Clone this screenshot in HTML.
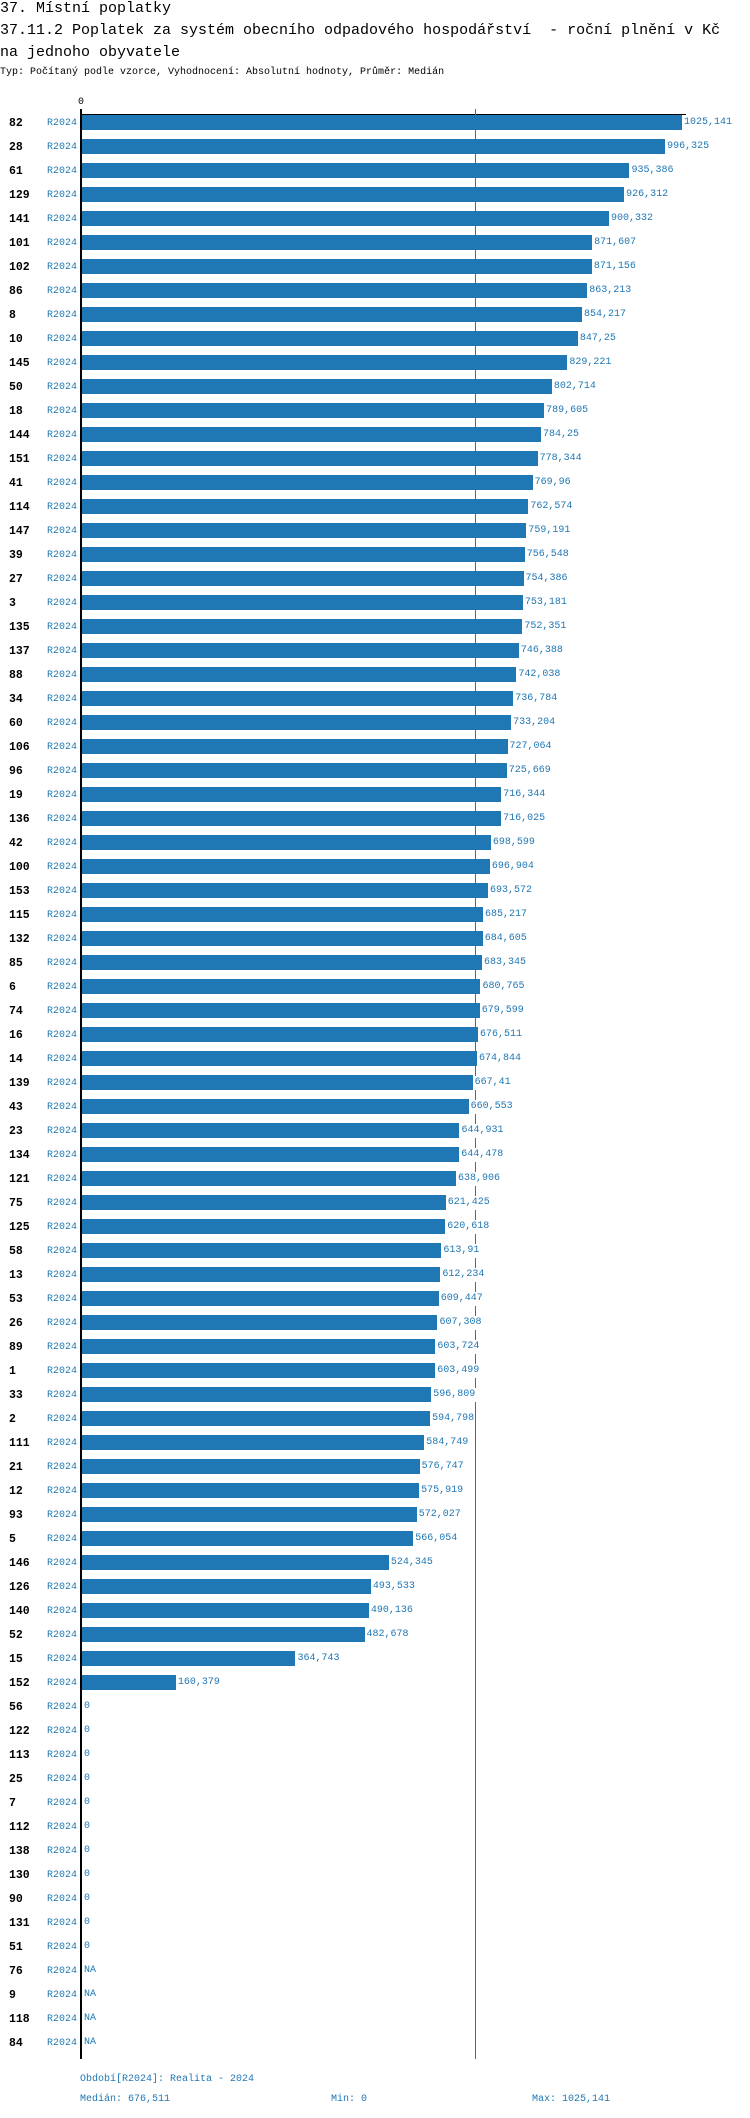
<!DOCTYPE html>
<html><head><meta charset="utf-8"><style>
body{margin:0;width:750px;height:2118px;background:#fff;position:relative;overflow:hidden;font-family:"Liberation Mono",monospace;}
.t{position:absolute;left:0;font-size:15px;color:#000;white-space:pre;line-height:18px}
.s{position:absolute;left:0;top:66px;font-size:10px;white-space:pre;line-height:14px}
.r{position:absolute;left:0;width:750px;height:24px}
.id{position:absolute;left:9px;top:1px;font-size:11.5px;font-weight:bold;line-height:16px}
.p{position:absolute;left:47px;top:2px;font-size:10px;color:#1f77b4;line-height:14px}
.b{position:absolute;left:82px;top:0;height:15.5px;background:#1f77b4;width:calc(var(--v)*0.5853px)}
.v{position:absolute;top:1px;font-size:10px;color:#1f77b4;line-height:14px;background:#fff;padding:0 1px;left:calc(83px + var(--v)*0.5853px)}
.f{position:absolute;font-size:10px;color:#1f77b4;line-height:14px;white-space:pre}
</style></head><body>
<div class="t" style="top:0">37. Místní poplatky</div>
<div class="t" style="top:22px">37.11.2 Poplatek za systém obecního odpadového hospodářství  - roční plnění v Kč</div>
<div class="t" style="top:44px">na jednoho obyvatele</div>
<div class="s">Typ: Počítaný podle vzorce, Vyhodnocení: Absolutní hodnoty, Průměr: Medián</div>
<div class="f" style="left:78px;top:96px;color:#000">0</div>
<div style="position:absolute;left:81px;top:114px;width:605px;height:1px;background:#000"></div>
<div style="position:absolute;left:475px;top:109px;width:1px;height:1950px;background:#1f77b4"></div>
<div id="rows"></div>
<div style="position:absolute;left:80px;top:109px;width:2px;height:1950px;background:#000;z-index:2"></div>
<div class="f" style="left:80px;top:2073px">Období[R2024]: Realita - 2024</div>
<div class="f" style="left:80px;top:2093px">Medián: 676,511</div>
<div class="f" style="left:331px;top:2093px">Min: 0</div>
<div class="f" style="left:532px;top:2093px">Max: 1025,141</div>
<script>
var d=[["82","1025,141"],["28","996,325"],["61","935,386"],["129","926,312"],["141","900,332"],["101","871,607"],["102","871,156"],["86","863,213"],["8","854,217"],["10","847,25"],["145","829,221"],["50","802,714"],["18","789,605"],["144","784,25"],["151","778,344"],["41","769,96"],["114","762,574"],["147","759,191"],["39","756,548"],["27","754,386"],["3","753,181"],["135","752,351"],["137","746,388"],["88","742,038"],["34","736,784"],["60","733,204"],["106","727,064"],["96","725,669"],["19","716,344"],["136","716,025"],["42","698,599"],["100","696,904"],["153","693,572"],["115","685,217"],["132","684,605"],["85","683,345"],["6","680,765"],["74","679,599"],["16","676,511"],["14","674,844"],["139","667,41"],["43","660,553"],["23","644,931"],["134","644,478"],["121","638,906"],["75","621,425"],["125","620,618"],["58","613,91"],["13","612,234"],["53","609,447"],["26","607,308"],["89","603,724"],["1","603,499"],["33","596,809"],["2","594,798"],["111","584,749"],["21","576,747"],["12","575,919"],["93","572,027"],["5","566,054"],["146","524,345"],["126","493,533"],["140","490,136"],["52","482,678"],["15","364,743"],["152","160,379"],["56","0"],["122","0"],["113","0"],["25","0"],["7","0"],["112","0"],["138","0"],["130","0"],["90","0"],["131","0"],["51","0"],["76","NA"],["9","NA"],["118","NA"],["84","NA"]];
var h="";
for(var i=0;i<d.length;i++){var n=d[i][1]=="NA"?0:parseFloat(d[i][1].replace(",","."));
h+='<div class="r" style="top:'+(114.5+24*i)+'px;--v:'+n+'"><div class="id">'+d[i][0]+'</div><div class="p">R2024</div>'+(n>0?'<div class="b"></div>':'')+'<div class="v">'+d[i][1]+'</div></div>';}
document.getElementById("rows").innerHTML=h;
</script>
</body></html>
